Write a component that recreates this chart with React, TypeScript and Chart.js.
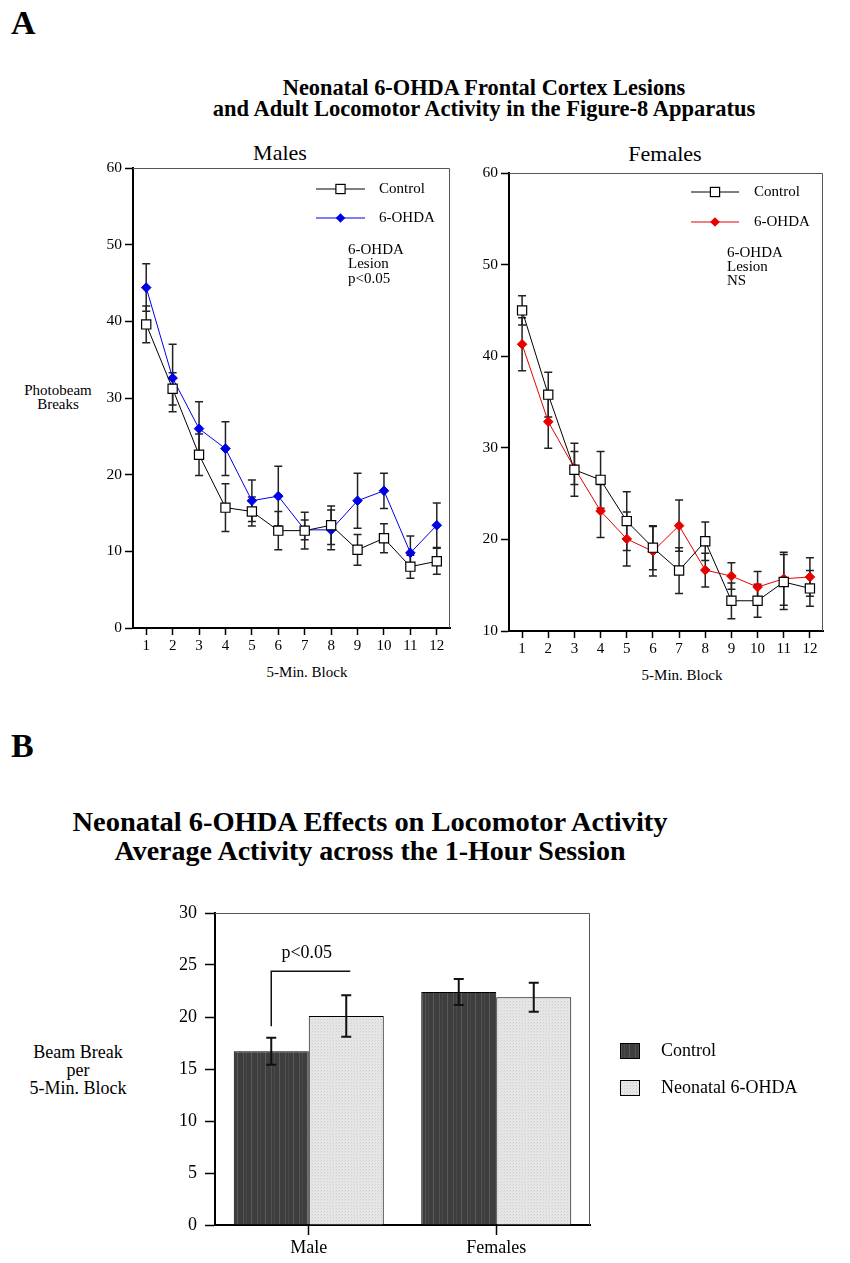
import React, { useEffect, useLayoutEffect, useRef, useState } from 'react';
import { Chart, registerables } from 'chart.js';

Chart.register(...registerables);

const FONT = '"Liberation Serif", "Times New Roman", serif';
Chart.defaults.font.family = FONT;
Chart.defaults.color = '#000';

// ---------- data ----------
const blocks = ['1', '2', '3', '4', '5', '6', '7', '8', '9', '10', '11', '12'];

const malesControl = [39.6, 31.2, 22.6, 15.7, 15.2, 12.7, 12.7, 13.4, 10.2, 11.7, 8.0, 8.7];
const malesControlSE = [2.4, 2.1, 2.7, 3.1, 1.9, 2.5, 2.4, 2.5, 2.0, 1.9, 1.5, 1.7];
const males6OHDA = [44.4, 32.6, 26.0, 23.4, 16.6, 17.2, 12.8, 12.8, 16.6, 17.9, 9.8, 13.4];
const males6OHDASE = [3.1, 4.4, 3.5, 3.5, 2.7, 3.9, 1.3, 2.6, 3.6, 2.3, 2.2, 2.9];

const femalesControl = [45.0, 35.8, 27.6, 26.5, 22.0, 19.1, 16.6, 19.8, 13.3, 13.3, 15.35, 14.65];
const femalesControlSE = [1.6, 2.45, 2.9, 3.1, 3.2, 2.4, 2.5, 2.1, 1.95, 1.8, 3.0, 1.95];
const females6OHDA = [41.3, 32.85, 27.8, 23.1, 20.05, 18.7, 21.5, 16.65, 16.0, 14.8, 15.7, 15.9];
const females6OHDASE = [2.9, 2.9, 1.8, 2.9, 2.95, 2.7, 2.8, 1.85, 1.45, 1.7, 2.9, 2.1];

const maleTicksY = [0, 60, 10];
const femaleTicksY = [10, 60, 10];
const barTicksY = [0, 30, 5];

const groups = ['Male', 'Females'];
const barControl = [16.7, 22.4];
const barControlSE = [1.3, 1.25];
const bar6OHDA = [20.1, 21.9];
const bar6OHDASE = [2.0, 1.4];

// significance bracket (value units)
const bracketTop = 24.4;
const bracketBottom = 19.1;
const bracketLabelY = 26.15;

// ---------- helpers ----------
function makeDarkPattern(): CanvasPattern | string {
  const c = document.createElement('canvas');
  c.width = 14; c.height = 4;
  const g = c.getContext('2d');
  if (!g) return '#404040';
  g.fillStyle = '#3e3e3e'; g.fillRect(0, 0, 14, 4);
  g.fillStyle = '#5a5a5a'; g.fillRect(2, 0, 1, 4);
  g.fillStyle = '#535353'; g.fillRect(8, 0, 1, 4);
  g.fillStyle = '#4a4a4a'; g.fillRect(11, 0, 1, 4);
  return g.createPattern(c, 'repeat') || '#404040';
}
function makeLightPattern(): CanvasPattern | string {
  const c = document.createElement('canvas');
  c.width = 3; c.height = 3;
  const g = c.getContext('2d');
  if (!g) return '#e0e0e0';
  g.fillStyle = '#e6e6e6'; g.fillRect(0, 0, 3, 3);
  g.fillStyle = '#cfcfcf';
  g.fillRect(0, 0, 1, 1);
  g.fillStyle = '#dadada';
  g.fillRect(2, 1, 1, 1);
  return g.createPattern(c, 'repeat') || '#e0e0e0';
}

function drawErrors(chart: any, capHalf: number, lw: number, color: string) {
  const ctx = chart.ctx;
  const ys = chart.scales.y;
  chart.data.datasets.forEach((ds: any, di: number) => {
    const errs: number[] | undefined = ds.errors;
    if (!errs) return;
    const meta = chart.getDatasetMeta(di);
    meta.data.forEach((el: any, i: number) => {
      const v = ds.data[i];
      const e = errs[i];
      const x = el.x;
      const yT = ys.getPixelForValue(v + e);
      const yB = ys.getPixelForValue(v - e);
      ctx.save();
      ctx.strokeStyle = color;
      ctx.lineWidth = lw;
      ctx.beginPath();
      ctx.moveTo(x, yT); ctx.lineTo(x, yB);
      ctx.moveTo(x - capHalf, yT); ctx.lineTo(x + capHalf, yT);
      ctx.moveTo(x - capHalf, yB); ctx.lineTo(x + capHalf, yB);
      ctx.stroke();
      ctx.restore();
    });
  });
}

function drawBox(chart: any) {
  const { ctx, chartArea: a } = chart;
  ctx.save();
  ctx.strokeStyle = '#555';
  ctx.lineWidth = 1;
  ctx.beginPath();
  ctx.moveTo(a.left, a.top + 0.5);
  ctx.lineTo(a.right - 0.5, a.top + 0.5);
  ctx.lineTo(a.right - 0.5, a.bottom);
  ctx.stroke();
  ctx.restore();
}

function drawSquare(ctx: CanvasRenderingContext2D, x: number, y: number) {
  ctx.fillStyle = '#fff';
  ctx.strokeStyle = '#000';
  ctx.lineWidth = 1.2;
  ctx.fillRect(x - 4.6, y - 4.6, 9.2, 9.2);
  ctx.strokeRect(x - 4.6, y - 4.6, 9.2, 9.2);
}
function drawDiamond(ctx: CanvasRenderingContext2D, x: number, y: number, color: string) {
  ctx.fillStyle = color;
  ctx.beginPath();
  ctx.moveTo(x, y - 4.8); ctx.lineTo(x + 4.8, y); ctx.lineTo(x, y + 4.8); ctx.lineTo(x - 4.8, y);
  ctx.closePath();
  ctx.fill();
}

interface LegendPos { lx0: number; lx1: number; y1: number; y2: number; tx: number; ax: number; ay: number[]; note: string[]; color: string; }

function lineLegendPlugin(p: LegendPos) {
  return {
    id: 'lineLegend',
    afterDraw(chart: any) {
      const { ctx, chartArea: a } = chart;
      ctx.save();
      const mx = a.left + (p.lx0 + p.lx1) / 2;
      ctx.strokeStyle = '#000'; ctx.lineWidth = 1;
      ctx.beginPath(); ctx.moveTo(a.left + p.lx0, a.top + p.y1); ctx.lineTo(a.left + p.lx1, a.top + p.y1); ctx.stroke();
      drawSquare(ctx, mx, a.top + p.y1);
      ctx.strokeStyle = p.color;
      ctx.beginPath(); ctx.moveTo(a.left + p.lx0, a.top + p.y2); ctx.lineTo(a.left + p.lx1, a.top + p.y2); ctx.stroke();
      drawDiamond(ctx, mx, a.top + p.y2, p.color);
      ctx.fillStyle = '#000';
      ctx.font = `15px ${FONT}`;
      ctx.textBaseline = 'middle';
      ctx.textAlign = 'left';
      ctx.fillText('Control', a.left + p.tx, a.top + p.y1);
      ctx.fillText('6-OHDA', a.left + p.tx, a.top + p.y2);
      p.note.forEach((t, i) => ctx.fillText(t, a.left + p.ax, a.top + p.ay[i]));
      ctx.restore();
    },
  };
}

function lineConfig(ctrl: number[], ctrlSE: number[], les: number[], lesSE: number[], color: string, yr: number[], legend: LegendPos): any {
  return {
    type: 'line',
    data: {
      labels: blocks,
      datasets: [
        {
          label: 'Control', data: ctrl, errors: ctrlSE,
          borderColor: '#000', borderWidth: 1, tension: 0,
          pointStyle: 'rect', pointRadius: 6.5, pointBackgroundColor: '#fff',
          pointBorderColor: '#000', pointBorderWidth: 1.2,
        },
        {
          label: '6-OHDA', data: les, errors: lesSE,
          borderColor: color, borderWidth: 1, tension: 0,
          pointStyle: 'rectRot', pointRadius: 4.8, pointBackgroundColor: color,
          pointBorderColor: color, pointBorderWidth: 1,
        },
      ],
    },
    options: {
      animation: false,
      responsive: false,
      maintainAspectRatio: false,
      layout: { padding: { top: 20, right: 20, left: 0, bottom: 0 } },
      plugins: { legend: { display: false }, tooltip: { enabled: false }, title: { display: false } },
      scales: {
        x: {
          type: 'category', offset: true,
          grid: { display: true, drawOnChartArea: false, drawTicks: true, tickLength: 7, tickWidth: 1.5, tickColor: '#000', offset: false },
          border: { display: true, color: '#000', width: 2 },
          ticks: { color: '#000', font: { size: 15, family: FONT }, padding: 2, maxRotation: 0, autoSkip: false },
          afterFit: (s: any) => { s.height = 32; },
        },
        y: {
          min: yr[0], max: yr[1],
          grid: { display: true, drawOnChartArea: false, drawTicks: true, tickLength: 8, tickWidth: 1.5, tickColor: '#000' },
          border: { display: true, color: '#000', width: 2 },
          ticks: { stepSize: yr[2], color: '#000', font: { size: 15.5, family: FONT }, padding: 3 },
          afterFit: (s: any) => { s.width = 43; },
        },
      },
    },
    plugins: [
      { id: 'errs', beforeDatasetsDraw(chart: any) { drawErrors(chart, 4, 1.5, '#222'); } },
      { id: 'box', afterDraw(chart: any) { drawBox(chart); } },
      lineLegendPlugin(legend),
    ],
  };
}

function barConfig(): any {
  const dark = makeDarkPattern();
  const light = makeLightPattern();
  return {
    type: 'bar',
    data: {
      labels: groups,
      datasets: [
        { label: 'Control', data: barControl, errors: barControlSE, backgroundColor: dark, borderColor: '#000', borderWidth: 1, categoryPercentage: 0.8, barPercentage: 1 },
        { label: 'Neonatal 6-OHDA', data: bar6OHDA, errors: bar6OHDASE, backgroundColor: light, borderColor: '#000', borderWidth: 1, categoryPercentage: 0.8, barPercentage: 1 },
      ],
    },
    options: {
      animation: false,
      responsive: false,
      maintainAspectRatio: false,
      layout: { padding: { top: 20, right: 260, left: 0, bottom: 0 } },
      plugins: { legend: { display: false }, tooltip: { enabled: false } },
      scales: {
        x: {
          grid: { display: true, drawOnChartArea: false, drawTicks: true, tickLength: 10, tickWidth: 1.5, tickColor: '#000', offset: false },
          border: { display: true, color: '#000', width: 2 },
          ticks: { color: '#000', font: { size: 18, family: FONT }, padding: 2 },
          afterFit: (s: any) => { s.height = 35; },
        },
        y: {
          min: barTicksY[0], max: barTicksY[1],
          grid: { display: true, drawOnChartArea: false, drawTicks: true, tickLength: 10, tickWidth: 1.5, tickColor: '#000' },
          border: { display: true, color: '#000', width: 2 },
          ticks: { stepSize: barTicksY[2], color: '#000', font: { size: 18, family: FONT }, padding: 8 },
          afterFit: (s: any) => { s.width = 50; },
        },
      },
    },
    plugins: [
      { id: 'box', afterDraw(chart: any) { drawBox(chart); } },
      { id: 'errs', afterDatasetsDraw(chart: any) { drawErrors(chart, 5, 2, '#111'); } },
      {
        id: 'extras',
        afterDraw(chart: any) {
          const { ctx } = chart;
          const ys = chart.scales.y;
          const m0 = chart.getDatasetMeta(0).data[0] as any;
          const m1 = chart.getDatasetMeta(1).data[0] as any;
          const x1 = m0.x;
          const x2 = m1.x + 4;
          const yT = ys.getPixelForValue(bracketTop);
          const yB = ys.getPixelForValue(bracketBottom);
          ctx.save();
          ctx.strokeStyle = '#111'; ctx.lineWidth = 1.5;
          ctx.beginPath(); ctx.moveTo(x1, yB); ctx.lineTo(x1, yT); ctx.lineTo(x2, yT); ctx.stroke();
          ctx.fillStyle = '#000';
          ctx.font = `18px ${FONT}`;
          ctx.textAlign = 'center'; ctx.textBaseline = 'middle';
          ctx.fillText('p<0.05', (x1 + x2) / 2 - 4, ys.getPixelForValue(bracketLabelY));
          const sx = 455;
          const rows = [158, 195];
          const fills = [dark, light];
          const names = ['Control', 'Neonatal 6-OHDA'];
          rows.forEach((ry, i) => {
            ctx.fillStyle = fills[i] as any;
            ctx.fillRect(sx, ry - 8, 20, 16);
            ctx.strokeStyle = '#000'; ctx.lineWidth = 1;
            ctx.strokeRect(sx + 0.5, ry - 7.5, 19, 15);
            ctx.fillStyle = '#000';
            ctx.textAlign = 'left';
            ctx.fillText(names[i], 496, ry);
          });
          ctx.restore();
        },
      },
    ],
  };
}

function ChartCanvas({ left, top, width, height, build }: { left: number; top: number; width: number; height: number; build: () => any }) {
  const ref = useRef<HTMLCanvasElement>(null);
  useEffect(() => {
    if (!ref.current) return;
    const chart = new Chart(ref.current, build());
    return () => chart.destroy();
  }, []);
  return <canvas ref={ref} width={width} height={height} style={{ position: 'absolute', left, top, width, height }} />;
}

function Txt({ x, y, size, bold, fit, left, children }: { x: number; y: number; size: number; bold?: boolean; fit?: number; left?: boolean; children: React.ReactNode }) {
  const ref = useRef<HTMLDivElement>(null);
  const [sx, setSx] = useState(1);
  useLayoutEffect(() => {
    if (fit && ref.current) {
      const w = ref.current.offsetWidth;
      if (w) setSx(fit / w);
    }
  }, [fit]);
  return (
    <div
      ref={ref}
      style={{
        position: 'absolute', left: x, top: y, fontFamily: FONT, fontSize: size,
        fontWeight: bold ? 'bold' : 'normal', lineHeight: 1, whiteSpace: 'nowrap', color: '#000',
        transform: `translate(${left ? '0' : '-50%'}, -50%) scaleX(${sx})`,
        transformOrigin: left ? 'left center' : 'center center',
      }}
    >
      {children}
    </div>
  );
}

export default function App() {
  return (
    <div style={{ position: 'absolute', left: 0, top: 0, width: 850, height: 1263, background: '#fff', overflow: 'hidden' }}>
      <Txt x={11} y={23} size={34} bold left>A</Txt>
      <Txt x={484} y={87} size={24} bold fit={403}>Neonatal 6-OHDA Frontal Cortex Lesions</Txt>
      <Txt x={484} y={108} size={24} bold fit={542}>and Adult Locomotor Activity in the Figure-8 Apparatus</Txt>
      <Txt x={280} y={153} size={22}>Males</Txt>
      <Txt x={665} y={154} size={22}>Females</Txt>
      <Txt x={58} y={390} size={15}>Photobeam</Txt>
      <Txt x={58} y={404} size={15}>Breaks</Txt>
      <Txt x={307} y={672} size={15}>5-Min. Block</Txt>
      <Txt x={682} y={675} size={15}>5-Min. Block</Txt>

      <ChartCanvas left={90} top={148} width={380} height={512}
        build={() => lineConfig(malesControl, malesControlSE, males6OHDA, males6OHDASE, '#0000e6', maleTicksY,
          { lx0: 183, lx1: 232, y1: 21, y2: 50, tx: 246, ax: 215, ay: [82, 96, 111], note: ['6-OHDA', 'Lesion', 'p<0.05'], color: '#0000e6' })} />
      <ChartCanvas left={466} top={153} width={377} height={510}
        build={() => lineConfig(femalesControl, femalesControlSE, females6OHDA, females6OHDASE, '#e60000', femaleTicksY,
          { lx0: 182, lx1: 230, y1: 19, y2: 49, tx: 245, ax: 218, ay: [80, 94, 108], note: ['6-OHDA', 'Lesion', 'NS'], color: '#e60000' })} />

      <Txt x={11} y={746} size={34} bold left>B</Txt>
      <Txt x={370} y={822} size={28} bold fit={595}>Neonatal 6-OHDA Effects on Locomotor Activity</Txt>
      <Txt x={370} y={851} size={28} bold>Average Activity across the 1-Hour Session</Txt>
      <Txt x={78} y={1052} size={18}>Beam Break</Txt>
      <Txt x={78} y={1070} size={18}>per</Txt>
      <Txt x={78} y={1088} size={18}>5-Min. Block</Txt>

      <ChartCanvas left={165} top={893} width={685} height={367} build={barConfig} />
    </div>
  );
}
